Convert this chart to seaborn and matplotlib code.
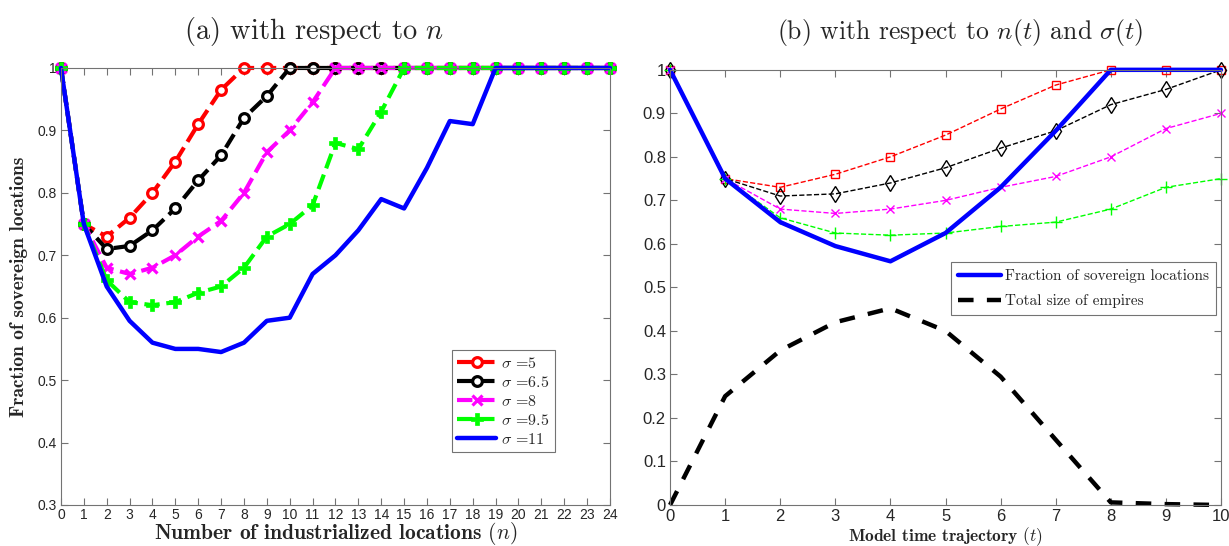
import numpy as np
import pandas as pd
import matplotlib
matplotlib.use("Agg")
import matplotlib.pyplot as plt
import seaborn as sns
from matplotlib.ticker import FormatStrFormatter, MultipleLocator

# ---------------- data: panel (a) ----------------
n_vals = list(range(25))
sig5 = [1, 0.75, 0.73, 0.76, 0.80, 0.85, 0.91, 0.965] + [1.0] * 17
sig65 = [1, 0.75, 0.71, 0.715, 0.74, 0.775, 0.82, 0.86, 0.92, 0.955] + [1.0] * 15
sig8 = [1, 0.75, 0.68, 0.67, 0.68, 0.70, 0.73, 0.755, 0.80, 0.865, 0.90, 0.945] + [1.0] * 13
sig95 = [1, 0.75, 0.66, 0.625, 0.62, 0.625, 0.64, 0.65, 0.68, 0.73, 0.75, 0.78,
         0.88, 0.87, 0.93] + [1.0] * 10
sig11 = [1, 0.75, 0.65, 0.595, 0.56, 0.55, 0.55, 0.545, 0.56, 0.595, 0.60, 0.67,
         0.70, 0.74, 0.79, 0.775, 0.84, 0.915, 0.91, 1, 1, 1, 1, 1, 1]
legend_a = [r"$\sigma$ =5", r"$\sigma$ =6.5", r"$\sigma$ =8", r"$\sigma$ =9.5", r"$\sigma$ =11"]

# ---------------- data: panel (b) ----------------
t_vals = list(range(11))
r5 = [1, 0.75, 0.73, 0.76, 0.80, 0.85, 0.91, 0.965, 1, 1, 1]
r65 = [1, 0.75, 0.71, 0.715, 0.74, 0.775, 0.82, 0.86, 0.92, 0.955, 1.0]
r8 = [1, 0.75, 0.68, 0.67, 0.68, 0.70, 0.73, 0.755, 0.80, 0.865, 0.90]
r95 = [1, 0.75, 0.66, 0.625, 0.62, 0.625, 0.64, 0.65, 0.68, 0.73, 0.75]
frac_sov = [1, 0.75, 0.65, 0.595, 0.56, 0.625, 0.73, 0.86, 1, 1, 1]
emp_size = [0, 0.25, 0.355, 0.42, 0.452, 0.40, 0.295, 0.15, 0.006, 0.002, 0.0]
legend_b = ["Fraction of sovereign locations", "Total size of empires"]

# ---------------- style ----------------
sns.set_theme(style="ticks")
plt.rcParams["font.family"] = ["Liberation Sans", "DejaVu Sans"]
plt.rcParams["mathtext.fontset"] = "cm"
plt.rcParams["axes.unicode_minus"] = False
plt.rcParams["axes.edgecolor"] = "0.45"
plt.rcParams["axes.linewidth"] = 0.8

fig = plt.figure(figsize=(12.29, 5.46), dpi=100)
ax1 = fig.add_axes([0.0496, 0.0751, 0.4467, 0.8004])
ax2 = fig.add_axes([0.5452, 0.0751, 0.4483, 0.797])

# ---------------- panel (a) ----------------
specs_a = [
    (sig5, "#ff0000", "o", "--"),
    (sig65, "#000000", "o", "--"),
    (sig8, "#ff00ff", "x", "--"),
    (sig95, "#00ff00", "P", "--"),
]
for (vals, col, mk, ls), lab in zip(specs_a, legend_a[:4]):
    kw = dict(marker=mk, markersize=7, markeredgewidth=2.3, markeredgecolor=col)
    if mk == "o":
        kw["markerfacecolor"] = "white"
    else:
        kw["markerfacecolor"] = col
    if mk == "P":
        kw["markersize"] = 8.5
        kw["markeredgewidth"] = 0.5
    if mk == "x":
        kw["markersize"] = 6.5
    sns.lineplot(x=n_vals, y=vals, ax=ax1, color=col, linestyle=ls, linewidth=3,
                 label=lab, clip_on=False, **kw)
sns.lineplot(x=n_vals, y=sig11, ax=ax1, color="#0000ff", linestyle="-",
             linewidth=3.2, label=legend_a[4], clip_on=False)

ax1.set_xlim(0, 24)
ax1.set_ylim(0.3, 1.0)
ax1.xaxis.set_major_locator(MultipleLocator(1))
ax1.yaxis.set_major_locator(MultipleLocator(0.1))
ax1.yaxis.set_major_formatter(FormatStrFormatter("%g"))
ax1.tick_params(direction="in", top=True, right=True, length=5, width=0.8,
                color="0.45", labelsize=10, pad=3)
ax1.tick_params(axis="x", pad=2)
ax1.set_title(r"(a) with respect to $n$", fontfamily="cmr10", fontsize=20.5,
              pad=21, x=0.461)
ax1.set_xlabel(r"Number of industrialized locations $(n)$", fontfamily="cmb10",
               fontsize=15.5, labelpad=-1)
ax1.set_ylabel("Fraction of sovereign locations", fontfamily="cmb10",
               fontsize=14, labelpad=7)
leg1 = ax1.legend(loc="lower left", bbox_to_anchor=(0.712, 0.121),
                  prop={"family": "cmr10", "size": 11.5}, frameon=True,
                  fancybox=False, edgecolor="0.45", framealpha=1,
                  handlelength=2.4, borderpad=0.35, labelspacing=0.25,
                  handletextpad=0.3, borderaxespad=0)
leg1.get_frame().set_linewidth(0.8)

# ---------------- panel (b) ----------------
specs_b = [
    (r5, "#ff0000", "s", 6),
    (r65, "#000000", "d", 8),
    (r8, "#ff00ff", "x", 6),
    (r95, "#00ff00", "+", 9),
]
for vals, col, mk, ms in specs_b:
    sns.lineplot(x=t_vals, y=vals, ax=ax2, color=col, linestyle="--", linewidth=1,
                 marker=mk, markersize=ms, markerfacecolor="none",
                 markeredgecolor=col, markeredgewidth=1, legend=False, clip_on=False)
sns.lineplot(x=t_vals, y=frac_sov, ax=ax2, color="#0000ff", linestyle="-",
             linewidth=3.2, label=legend_b[0], clip_on=False)
sns.lineplot(x=t_vals, y=emp_size, ax=ax2, color="#000000", linestyle=(0, (3.5, 3)),
             linewidth=3.2, label=legend_b[1], clip_on=False)

ax2.set_xlim(0, 10)
ax2.set_ylim(0, 1.0)
ax2.xaxis.set_major_locator(MultipleLocator(1))
ax2.yaxis.set_major_locator(MultipleLocator(0.1))
ax2.yaxis.set_major_formatter(FormatStrFormatter("%g"))
ax2.tick_params(direction="in", top=True, right=True, length=5, width=0.8,
                color="0.45", labelsize=12, pad=3)
ax2.set_title(r"(b) with respect to $n(t)$ and $\sigma(t)$", fontfamily="cmr10",
              fontsize=18.5, pad=22, x=0.526)
ax2.set_xlabel(r"Model time trajectory $(t)$", fontfamily="cmb10", fontsize=12.5,
               labelpad=1)
h, l = ax2.get_legend_handles_labels()
leg2 = ax2.legend(h[-2:], l[-2:], loc="lower left", bbox_to_anchor=(0.51, 0.437),
                  prop={"family": "cmr10", "size": 11}, frameon=True,
                  fancybox=False, edgecolor="0.45", framealpha=1,
                  handlelength=2.8, borderpad=0.45, labelspacing=0.7,
                  handletextpad=0.3, borderaxespad=0)
leg2.get_frame().set_linewidth(0.8)

fig.savefig("out.png", dpi=100)
